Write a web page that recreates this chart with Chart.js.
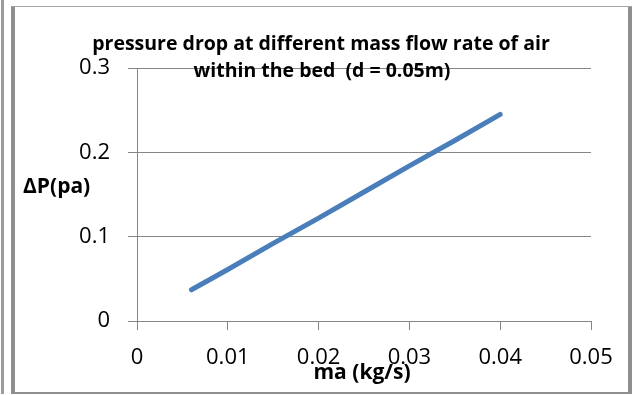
<!DOCTYPE html>
<html lang="en">
<head>
    <meta charset="UTF-8">
    <title>pressure drop vs mass flow rate</title>
    <script src="https://cdn.jsdelivr.net/npm/chart.js@4.4.1/dist/chart.umd.min.js"></script>
    <style>
        body { margin: 0; background: #fff; }
        #wrap { width: 634px; height: 395px; position: relative; }
    </style>
</head>
<body>
    <div id="wrap">
        <canvas id="dpChart" width="634" height="395"></canvas>
    </div>

    <script>
        // mass flow rate of air (kg/s) and pressure drop across the bed (pa)
        const massFlow = [0.006, 0.01, 0.015, 0.02, 0.025, 0.03, 0.035, 0.04];
        const pressureDrop = [0.037, 0.061, 0.092, 0.122, 0.153, 0.184, 0.214, 0.245];

        const xTicks = [0, 0.01, 0.02, 0.03, 0.04, 0.05];
        const yTicks = [0, 0.1, 0.2, 0.3];

        const titleLines = ['pressure drop at different mass flow rate of air', 'within the bed  (d = 0.05m)'];
        const xTitle = 'ma (kg/s)';
        const yTitle = 'ΔP(pa)';

        const gridGray = '#868686';
        const tickFont = { family: 'Open Sans', size: 22 };

        // frame around the chart plus the titles (they overlap the plot like the sheet version)
        const decorations = {
            id: 'decorations',
            beforeDraw(chart) {
                const ctx = chart.ctx;
                ctx.save();
                ctx.fillStyle = '#fff';
                ctx.fillRect(0, 0, chart.width, chart.height);
                ctx.fillStyle = '#9c9c9c';
                ctx.fillRect(1, 0, 3, 394);
                ctx.fillStyle = '#8e8e8e';
                ctx.fillRect(11, 6, 4, 388);
                ctx.fillRect(628, 6, 4, 388);
                ctx.fillRect(11, 392, 621, 2);
                ctx.fillStyle = '#a4a4a4';
                ctx.fillRect(11, 6, 621, 1);
                ctx.restore();
            },
            afterDraw(chart) {
                const ctx = chart.ctx;
                ctx.save();
                ctx.fillStyle = '#000';
                ctx.textBaseline = 'alphabetic';
                ctx.font = 'bold 19.5px "Open Sans"';
                ctx.textAlign = 'center';
                ctx.fillText(titleLines[0], 321, 50);
                ctx.fillText(titleLines[1], 322, 77);

                ctx.font = 'bold 21px "Open Sans"';
                ctx.fillText(xTitle, 362, 379);
                ctx.textAlign = 'left';
                ctx.fillText(yTitle, 23, 193);
                ctx.restore();
            }
        };

        new Chart(document.getElementById('dpChart').getContext('2d'), {
            type: 'scatter',
            data: {
                datasets: [{
                    data: massFlow.map((m, i) => ({ x: m, y: pressureDrop[i] })),
                    showLine: true,
                    borderColor: '#4a7ebb',
                    borderWidth: 5,
                    borderCapStyle: 'round',
                    borderJoinStyle: 'round',
                    pointRadius: 0,
                    tension: 0
                }]
            },
            options: {
                responsive: false,
                animation: false,
                devicePixelRatio: 1,
                layout: { padding: { top: 68, right: 43, left: 0, bottom: 0 } },
                plugins: {
                    legend: { display: false },
                    tooltip: { enabled: false }
                },
                scales: {
                    x: {
                        type: 'linear',
                        min: 0,
                        max: 0.05,
                        afterBuildTicks: s => { s.ticks = xTicks.map(v => ({ value: v })); },
                        afterFit: s => { s.height = 74; },
                        ticks: {
                            color: '#000',
                            font: tickFont,
                            padding: 15,
                            maxRotation: 0,
                            callback: v => String(+v.toFixed(2))
                        },
                        grid: {
                            drawOnChartArea: false,
                            drawTicks: true,
                            tickLength: 9,
                            color: gridGray
                        },
                        border: { display: true, color: gridGray, width: 1 }
                    },
                    y: {
                        min: 0,
                        max: 0.3,
                        afterBuildTicks: s => { s.ticks = yTicks.map(v => ({ value: v })); },
                        afterFit: s => { s.width = 137; },
                        ticks: {
                            color: '#000',
                            font: tickFont,
                            padding: 18,
                            callback: v => String(+v.toFixed(1))
                        },
                        grid: {
                            color: gridGray,
                            tickLength: 9
                        },
                        border: { display: true, color: gridGray, width: 1 }
                    }
                }
            },
            plugins: [decorations]
        });
    </script>
</body>
</html>
